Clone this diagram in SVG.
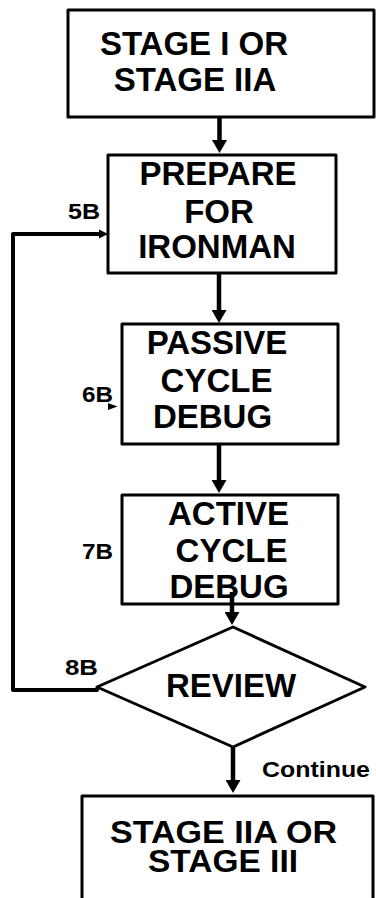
<svg xmlns="http://www.w3.org/2000/svg" width="376" height="898" viewBox="0 0 376 898">
  <style>
    .box { fill: #ffffff; stroke: #000000; stroke-width: 3; stroke-linejoin: round; }
    .title { font-family: "Liberation Sans", Arial, sans-serif; font-weight: bold; font-size: 33px; fill: #000000; text-anchor: middle; }
    .title.tight { font-size: 31px; }
    .tag { font-family: "Liberation Sans", Arial, sans-serif; font-weight: bold; font-size: 22px; fill: #000000; }
    .flow { fill: none; stroke: #000000; stroke-width: 4.5; }
    .loop { fill: none; stroke: #000000; stroke-width: 4; stroke-linejoin: round; stroke-linecap: round; }
  </style>
  <defs>
    <marker id="headBig" markerUnits="userSpaceOnUse" markerWidth="14" markerHeight="15" refX="0" refY="7.5" orient="auto">
      <path d="M0,0 L13,7.5 L0,15 z" fill="#000000"/>
    </marker>
    <marker id="headSmall" markerUnits="userSpaceOnUse" markerWidth="10" markerHeight="10" refX="0" refY="5" orient="auto">
      <path d="M0,0.5 L9,5 L0,9.5 z" fill="#000000"/>
    </marker>
  </defs>

  <g id="stage-start">
    <rect class="box" x="68" y="10" width="306" height="107"/>
    <text class="title" x="194" y="55">STAGE I OR</text>
    <text class="title" x="195" y="91">STAGE IIA</text>
  </g>

  <g id="prepare">
    <rect class="box" x="108" y="155" width="228" height="118"/>
    <text class="title" x="218" y="185">PREPARE</text>
    <text class="title" x="219" y="223">FOR</text>
    <text class="title" x="217" y="258">IRONMAN</text>
  </g>

  <g id="passive">
    <rect class="box" x="122" y="324" width="216" height="120"/>
    <text class="title" x="217" y="354">PASSIVE</text>
    <text class="title" x="216.5" y="392">CYCLE</text>
    <text class="title" x="212.5" y="428">DEBUG</text>
  </g>

  <g id="active">
    <rect class="box" x="122" y="495" width="216" height="109"/>
    <text class="title" x="228.5" y="525">ACTIVE</text>
    <text class="title" x="231.5" y="562">CYCLE</text>
    <text class="title" x="229" y="598">DEBUG</text>
  </g>

  <g id="review">
    <polygon class="box" points="233,627 365,687 233,747 97,687"/>
    <text class="title" x="231" y="697">REVIEW</text>
  </g>

  <g id="stage-next">
    <rect class="box" x="82" y="796" width="291" height="120"/>
    <text class="title tight" x="223.5" y="843" textLength="227" lengthAdjust="spacingAndGlyphs">STAGE IIA OR</text>
    <text class="title tight" x="223" y="872" textLength="150" lengthAdjust="spacingAndGlyphs">STAGE III</text>
  </g>

  <g id="labels">
    <text class="tag" x="68" y="219" textLength="32" lengthAdjust="spacingAndGlyphs">5B</text>
    <text class="tag" x="82" y="402" textLength="31" lengthAdjust="spacingAndGlyphs">6B</text>
    <text class="tag" x="82" y="559" textLength="31" lengthAdjust="spacingAndGlyphs">7B</text>
    <text class="tag" x="65" y="675" textLength="33" lengthAdjust="spacingAndGlyphs">8B</text>
    <text class="tag" x="262" y="777" textLength="108" lengthAdjust="spacingAndGlyphs">Continue</text>
  </g>

  <g id="connectors">
    <path class="flow" d="M219.5,117 V140" marker-end="url(#headBig)"/>
    <path class="flow" d="M219,273 V310" marker-end="url(#headBig)"/>
    <path class="flow" d="M219,444 V480" marker-end="url(#headBig)"/>
    <path class="flow" d="M232,592 V612" marker-end="url(#headBig)"/>
    <path class="flow" d="M233,747 V780" marker-end="url(#headBig)"/>
    <path class="loop" d="M97,690 H13 V234 H99" marker-end="url(#headSmall)"/>
    <polygon points="108,403 117.5,406.5 108,410" fill="#000000"/>
  </g>
</svg>
